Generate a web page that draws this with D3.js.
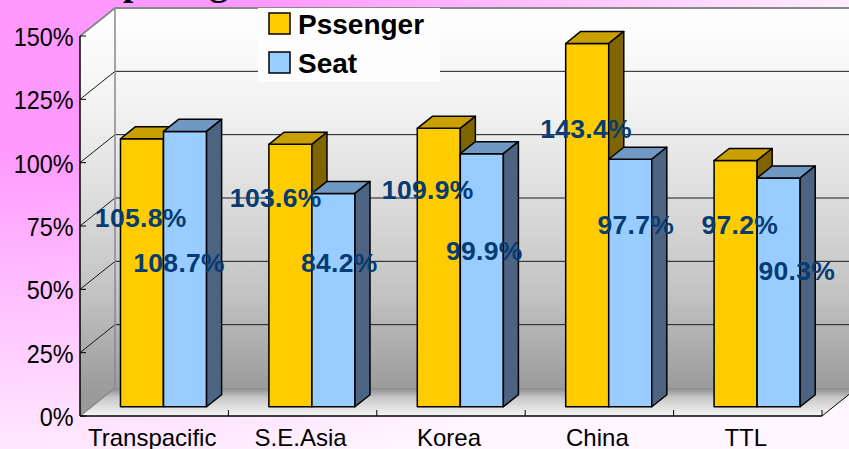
<!DOCTYPE html>
<html><head><meta charset="utf-8">
<script src="https://cdn.jsdelivr.net/npm/d3@7"></script>
<style>html,body{margin:0;padding:0;overflow:hidden;background:#fff}</style>
</head><body>
<svg id="c" width="849" height="449"></svg>
<script>
// ---- data ----
const categories = ["Transpacific", "S.E.Asia", "Korea", "China", "TTL"];
const seriesNames = ["Pssenger", "Seat"];
const passenger = [105.8, 103.6, 109.9, 143.4, 97.2];
const seat = [108.7, 84.2, 99.9, 97.7, 90.3];
const yTicks = [0, 25, 50, 75, 100, 125, 150];
const titleText = "Comparing";
// data-label placement (value level of baseline, horizontal nudge)
const labelLevelP = [71.0, 78.9, 82.0, 106.1, 68.2];
const labelLevelS = [53.2, 53.2, 57.9, 68.2, 50.1];
const labelShiftP = [-1.3, -14.7, -11.1, -1.1, 4.2];
const labelShiftS = [-5.9, 5.8, 2.4, 5.6, 18.2];

// ---- layout ----
const L = 80, R = 822, B = 416, T = 36, DX = 35, DY = 28, F1 = 0.33, F2 = 0.76;
const svg = d3.select("#c");
const y = d3.scaleLinear().domain([0, 150]).range([B, T]);
const x = d3.scaleBand().domain(categories).range([L, R]).padding(0);
const bw = x.bandwidth();
const xs = d3.scaleBand().domain(seriesNames).range([bw * 0.195, bw * 0.195 + bw * 0.58]).padding(0);
const P = (xf, v, d) => [xf + d * DX, y(v) - d * DY];

const defs = svg.append("defs");
const bg = defs.append("radialGradient").attr("id", "bg").attr("gradientUnits", "userSpaceOnUse")
  .attr("cx", 0).attr("cy", 0).attr("r", 1).attr("gradientTransform", "scale(900,500)");
bg.append("stop").attr("offset", 0.3).attr("stop-color", "#ff99ff");
bg.append("stop").attr("offset", 1).attr("stop-color", "#fff6ff");
const wg = defs.append("linearGradient").attr("id", "wall").attr("gradientUnits", "userSpaceOnUse")
  .attr("x1", 0).attr("y1", 8).attr("x2", 0).attr("y2", 392);
[[0, "#ffffff"], [0.25, "#f3f3f3"], [0.5, "#dcdcdc"], [0.75, "#c2c2c2"], [1, "#9a9a9a"]]
  .forEach(s => wg.append("stop").attr("offset", s[0]).attr("stop-color", s[1]));
const fg = defs.append("linearGradient").attr("id", "floor").attr("gradientUnits", "userSpaceOnUse")
  .attr("x1", 0).attr("y1", 388).attr("x2", 0).attr("y2", 416);
[[0, "#8c8c8c"], [0.35, "#c8c8c8"], [1, "#f6f6f6"]]
  .forEach(s => fg.append("stop").attr("offset", s[0]).attr("stop-color", s[1]));

svg.append("rect").attr("width", 849).attr("height", 449).attr("fill", "url(#bg)");
svg.append("text").attr("x", 47).attr("y", -5).text(titleText)
  .attr("font-family", "Liberation Serif, Times New Roman, serif").attr("font-weight", "bold")
  .attr("font-size", 37).attr("fill", "#000");

// walls & floor
const p0 = P(L, 0, 1), pTop = P(L, 150, 1);
svg.append("rect").attr("x", p0[0]).attr("y", pTop[1]).attr("width", R - L + 5)
  .attr("height", p0[1] - pTop[1]).attr("fill", "url(#wall)");
svg.append("polygon").attr("points", [P(L, 150, 0), P(L, 150, 1), P(L, 0, 1), P(L, 0, 0)].join(" "))
  .attr("fill", "url(#wall)");
svg.append("polygon").attr("points", [P(L, 0, 0), P(R, 0, 0), P(R, 0, 1), P(L, 0, 1)].join(" "))
  .attr("fill", "url(#floor)");

// gridlines
const inner = yTicks.filter(v => v > 0 && v < 150);
svg.append("g").selectAll("line").data(inner).join("line")
  .attr("x1", d => P(L, d, 1)[0]).attr("x2", d => P(R, d, 1)[0] + 10)
  .attr("y1", d => P(L, d, 1)[1]).attr("y2", d => P(L, d, 1)[1])
  .attr("stroke", "#1a1a1a").attr("stroke-width", 1);
svg.append("g").selectAll("line").data(inner).join("line")
  .attr("x1", d => P(L, d, 0)[0]).attr("y1", d => P(L, d, 0)[1])
  .attr("x2", d => P(L, d, 1)[0]).attr("y2", d => P(L, d, 1)[1])
  .attr("stroke", "#1a1a1a").attr("stroke-width", 1);
svg.append("polyline").attr("points", [P(L, 150, 0), P(L, 150, 1), [849, P(L, 150, 1)[1]]].join(" "))
  .attr("fill", "none").attr("stroke", "#888").attr("stroke-width", 2);
svg.append("line").attr("x1", P(L, 0, 1)[0]).attr("x2", P(L, 0, 1)[0])
  .attr("y1", P(L, 150, 1)[1]).attr("y2", P(L, 0, 1)[1]).attr("stroke", "#888").attr("stroke-width", 1.5);
svg.append("line").attr("x1", P(L, 0, 0)[0]).attr("y1", P(L, 0, 0)[1])
  .attr("x2", P(L, 0, 1)[0]).attr("y2", P(L, 0, 1)[1]).attr("stroke", "#888").attr("stroke-width", 1.2);

// legend background
svg.append("rect").attr("x", 258).attr("y", 8).attr("width", 182).attr("height", 74).attr("fill", "#fdfdfd");

// bars
const colors = {
  Pssenger: { front: "#FFCC00", top: "#C9A000", side: "#7F6500" },
  Seat: { front: "#99CCFF", top: "#6F99C2", side: "#4C6382" }
};
const rows = [];
categories.forEach((c, i) => {
  rows.push({ c, s: "Pssenger", v: passenger[i] });
  rows.push({ c, s: "Seat", v: seat[i] });
});
const bars = svg.append("g").selectAll("g").data(rows).join("g");
const x0 = d => x(d.c) + xs(d.s), x1 = d => x(d.c) + xs(d.s) + xs.bandwidth();
const sty = sel => sel.attr("stroke", "#000").attr("stroke-width", 1.5).attr("stroke-linejoin", "round");
bars.append("polygon").attr("points", d => [P(x0(d), 0, F1), P(x1(d), 0, F1), P(x1(d), d.v, F1), P(x0(d), d.v, F1)].join(" "))
  .attr("fill", d => colors[d.s].front).call(sty);
bars.append("polygon").attr("points", d => [P(x0(d), d.v, F1), P(x1(d), d.v, F1), P(x1(d), d.v, F2), P(x0(d), d.v, F2)].join(" "))
  .attr("fill", d => colors[d.s].top).call(sty);
bars.append("polygon").attr("points", d => [P(x1(d), 0, F1), P(x1(d), 0, F2), P(x1(d), d.v, F2), P(x1(d), d.v, F1)].join(" "))
  .attr("fill", d => colors[d.s].side).call(sty);

// axes
svg.append("line").attr("x1", L).attr("x2", L).attr("y1", y(150)).attr("y2", y(0)).attr("stroke", "#000").attr("stroke-width", 1.5);
svg.append("g").selectAll("line").data(yTicks).join("line")
  .attr("x1", L).attr("x2", L + 6).attr("y1", d => y(d)).attr("y2", d => y(d)).attr("stroke", "#000").attr("stroke-width", 1);
svg.append("line").attr("x1", L).attr("x2", R).attr("y1", B).attr("y2", B).attr("stroke", "#000").attr("stroke-width", 1.5);
svg.append("g").selectAll("line").data(categories.slice(1).concat(["__end"])).join("line")
  .attr("x1", d => d === "__end" ? R : x(d)).attr("x2", d => d === "__end" ? R : x(d))
  .attr("y1", B - 6).attr("y2", B).attr("stroke", "#000").attr("stroke-width", 1);
svg.append("line").attr("x1", R).attr("y1", B).attr("x2", P(R, 0, 1)[0]).attr("y2", P(R, 0, 1)[1])
  .attr("stroke", "#000").attr("stroke-width", 1);

svg.append("g").selectAll("text").data(yTicks).join("text")
  .attr("transform", d => `translate(73.5,${y(d) + 10}) scale(0.9,1)`)
  .attr("text-anchor", "end").attr("font-family", "Liberation Sans, Arial, sans-serif")
  .attr("font-size", 26).attr("fill", "#000").text(d => d + "%");
svg.append("g").selectAll("text").data(categories).join("text")
  .attr("x", d => x(d) + bw / 2 - 2).attr("y", 446).attr("text-anchor", "middle")
  .attr("font-family", "Liberation Sans, Arial, sans-serif").attr("font-size", 24).attr("fill", "#000").text(d => d);

// data labels
const lab = [];
categories.forEach((c, i) => {
  lab.push({ c, s: "Pssenger", v: passenger[i], lv: labelLevelP[i], sh: labelShiftP[i] });
  lab.push({ c, s: "Seat", v: seat[i], lv: labelLevelS[i], sh: labelShiftS[i] });
});
svg.append("g").selectAll("text").data(lab).join("text")
  .attr("x", d => P(x(d.c) + xs(d.s) + xs.bandwidth() / 2, d.lv, F1)[0] + d.sh)
  .attr("y", d => P(0, d.lv, F1)[1]).attr("text-anchor", "middle")
  .attr("font-family", "Liberation Sans, Arial, sans-serif").attr("font-weight", "bold")
  .attr("font-size", 26.5).attr("letter-spacing", 0.3).attr("fill", "#063b73").text(d => d.v.toFixed(1) + "%");

// legend
const lg = svg.append("g").selectAll("g").data(seriesNames).join("g")
  .attr("transform", (d, i) => `translate(269,${13 + i * 39})`);
lg.append("rect").attr("width", 21).attr("height", 21).attr("fill", d => colors[d].front)
  .attr("stroke", "#000").attr("stroke-width", 1.5);
lg.append("text").attr("x", 29).attr("y", 20.5).attr("font-family", "Liberation Sans, Arial, sans-serif")
  .attr("font-weight", "bold").attr("font-size", 28).attr("fill", "#000").text(d => d);
</script>
</body></html>
